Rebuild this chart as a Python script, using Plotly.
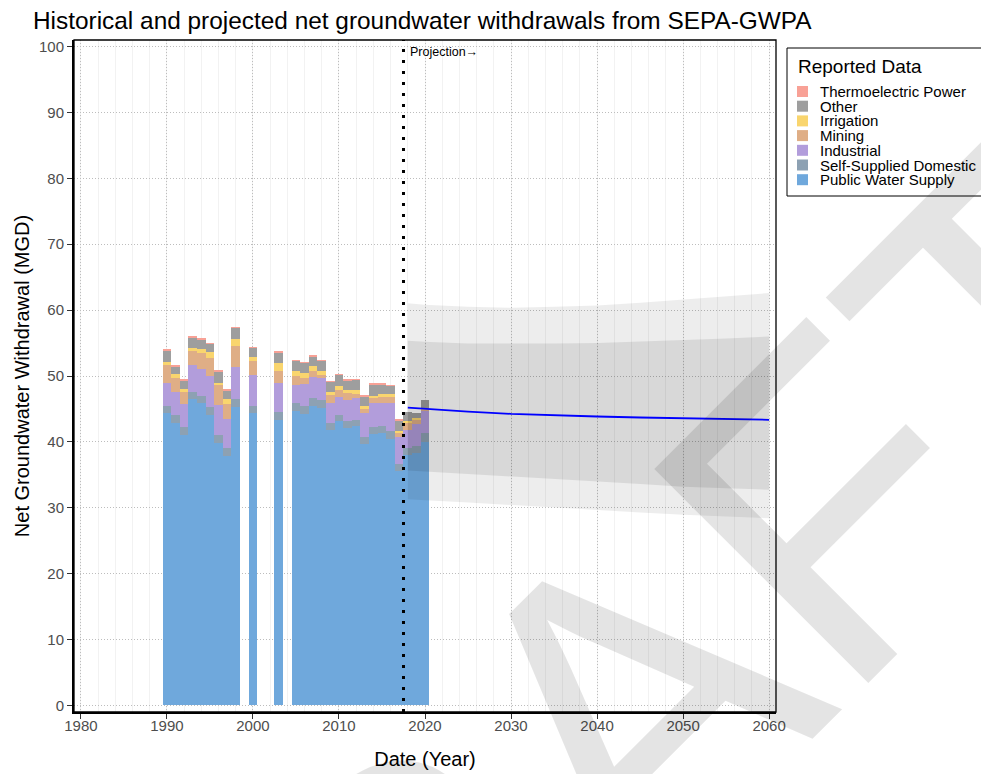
import plotly.graph_objects as go

# ---------------- reported withdrawals (MGD) ----------------
years = [1990, 1991, 1992, 1993, 1994, 1995, 1996, 1997, 1998, 2000, 2003,
         2005, 2006, 2007, 2008, 2009, 2010, 2011, 2012, 2013, 2014, 2015,
         2016, 2017, 2018, 2019, 2020]

public_water_supply = [44.4, 42.9, 41.05, 46.5, 45.9, 44.1, 39.9, 37.9, 45.3, 44.4, 43.3,
                       44.7, 44.25, 45.5, 45.2, 41.8, 43.1, 42.1, 42.4, 39.7, 41.2, 41.3,
                       40.45, 35.6, 38.0, 38.3, 40.05]
self_supplied_domestic = [1.1, 1.2, 1.15, 1.1, 1.1, 1.2, 1.15, 1.2, 1.2, 1.1, 1.3,
                          1.2, 1.15, 1.1, 1.2, 1.1, 1.0, 1.0, 0.9, 1.1, 1.0, 1.1,
                          1.15, 1.05, 1.0, 1.1, 1.25]
industrial = [3.5, 3.45, 3.6, 4.0, 4.1, 4.7, 4.55, 4.3, 4.8, 4.7, 4.3,
              2.75, 3.4, 3.3, 3.3, 3.05, 2.7, 3.2, 3.3, 3.6, 3.7, 3.55,
              4.3, 4.05, 2.8, 3.35, 3.5]
mining = [2.7, 2.15, 1.7, 2.2, 2.4, 2.7, 3.0, 2.4, 3.2, 2.15, 1.9,
          1.35, 0.9, 0.9, 0.5, 1.15, 1.0, 1.1, 0.7, 0.6, 0.7, 0.85,
          0.9, 0.6, 1.0, 0.6, 0.15]
irrigation = [0.5, 0.6, 0.5, 0.5, 0.6, 0.9, 0.4, 0.7, 1.1, 0.55, 1.15,
              0.8, 0.8, 0.75, 0.6, 0.5, 0.7, 0.5, 0.6, 0.5, 0.4, 0.4,
              0.5, 0.4, 0.4, 0.25, 0.25]
other = [1.7, 1.2, 1.3, 1.6, 1.5, 1.3, 1.7, 1.3, 1.7, 1.4, 1.65,
         1.5, 1.5, 1.45, 1.5, 1.55, 1.75, 1.45, 1.55, 1.45, 1.75, 1.55,
         1.25, 1.6, 1.4, 0.75, 1.1]
thermoelectric_power = [0.1, 0.1, 0.1, 0.1, 0.1, 0.1, 0.1, 0.1, 0.1, 0.1, 0.1,
                        0.05, 0.05, 0.05, 0.05, 0.05, 0.05, 0.05, 0.05, 0.05, 0.05, 0.05,
                        0.05, 0.05, 0.0, 0.0, 0.0]

# stacking order, bottom to top
series_names = ["Public Water Supply", "Self-Supplied Domestic", "Industrial",
                "Mining", "Irrigation", "Other", "Thermoelectric Power"]
series_values = [public_water_supply, self_supplied_domestic, industrial,
                 mining, irrigation, other, thermoelectric_power]
series_colors = ["#6FA8DC", "#8DA1B3", "#B29DDB", "#DFAE86", "#F9D56E",
                 "#9E9E9E", "#F8A196"]

# ---------------- projection (MGD) ----------------
proj_years = [2018, 2020, 2025, 2030, 2035, 2040, 2045, 2050, 2055, 2060]
proj_mean = [45.2, 45.0, 44.6, 44.25, 44.0, 43.85, 43.7, 43.55, 43.45, 43.35]
proj_outer_upper = [61.05, 60.8, 60.5, 60.35, 60.5, 60.7, 61.1, 61.6, 62.1, 62.6]
proj_inner_upper = [55.35, 55.2, 54.95, 54.9, 54.95, 55.0, 55.2, 55.45, 55.7, 56.0]
proj_inner_lower = [35.65, 35.5, 35.1, 34.7, 34.35, 34.0, 33.6, 33.2, 32.95, 32.75]
proj_outer_lower = [31.3, 31.15, 30.8, 30.45, 30.1, 29.7, 29.3, 28.95, 28.65, 28.4]

projection_start = 2017.5

x_ticks = list(range(1980, 2061, 10))
y_ticks = list(range(0, 101, 10))

FONT = "Liberation Sans, Arial, Helvetica, sans-serif"

# page geometry (px) used for layout-only placement
W, H = 981, 774
ML, MR, MT, MB = 74, 205, 40, 62
PW, PH = W - ML - MR, H - MT - MB


def paper_x(px):
    return (px - ML) / PW


def paper_y(py):
    return (H - MB - py) / PH


fig = go.Figure()

for name, vals, col in zip(series_names, series_values, series_colors):
    fig.add_trace(go.Bar(
        x=years, y=vals, name=name, width=1.0,
        marker=dict(color=col, line=dict(width=0)),
        showlegend=False,
    ))

# uncertainty ribbons
fig.add_trace(go.Scatter(
    x=proj_years + proj_years[::-1],
    y=proj_outer_upper + proj_outer_lower[::-1],
    fill="toself", fillcolor="rgba(0,0,0,0.07)",
    line=dict(width=0), mode="lines", hoverinfo="skip", showlegend=False,
))
fig.add_trace(go.Scatter(
    x=proj_years + proj_years[::-1],
    y=proj_inner_upper + proj_inner_lower[::-1],
    fill="toself", fillcolor="rgba(0,0,0,0.085)",
    line=dict(width=0), mode="lines", hoverinfo="skip", showlegend=False,
))
fig.add_trace(go.Scatter(
    x=proj_years, y=proj_mean, mode="lines",
    line=dict(color="#0000FF", width=1.8), showlegend=False,
))

shapes = [
    # projection divider
    dict(type="line", xref="x", yref="paper", x0=projection_start, x1=projection_start,
         y0=0, y1=1, line=dict(color="black", width=3, dash="3px,8px")),
    # panel border
    dict(type="rect", xref="paper", yref="paper", x0=0, x1=1, y0=0, y1=1,
         line=dict(color="black", width=1.3)),
    # legend frame
    dict(type="rect", xref="paper", yref="paper",
         x0=paper_x(787), x1=paper_x(990), y0=paper_y(196), y1=paper_y(48),
         line=dict(color="black", width=1), fillcolor="white", layer="below"),
]

annotations = [
    dict(text="Projection\u2192", xref="x", yref="paper", x=projection_start,
         y=paper_y(52), xanchor="left", yanchor="middle", xshift=5,
         showarrow=False, font=dict(family=FONT, size=12.5, color="black")),
    dict(text="Reported Data", xref="paper", yref="paper", x=paper_x(796),
         y=paper_y(67), xanchor="left", yanchor="middle", showarrow=False,
         font=dict(family=FONT, size=19, color="black")),
]

# legend entries, top to bottom
for i, (name, col) in enumerate(zip(series_names[::-1], series_colors[::-1])):
    cy = 91.5 + i * 14.7
    shapes.append(dict(type="rect", xref="paper", yref="paper",
                       x0=paper_x(797), x1=paper_x(808),
                       y0=paper_y(cy + 5.5), y1=paper_y(cy - 5.5),
                       line=dict(width=0), fillcolor=col))
    annotations.append(dict(text=name, xref="paper", yref="paper",
                            x=paper_x(818), y=paper_y(cy), xanchor="left",
                            yanchor="middle", showarrow=False,
                            font=dict(family=FONT, size=15, color="black")))

# watermark
annotations.append(dict(text="DRAFT", xref="paper", yref="paper",
                        x=paper_x(596), y=paper_y(739), xanchor="center",
                        yanchor="middle", showarrow=False, textangle=-45,
                        font=dict(family=FONT, size=440, color="rgba(0,0,0,0.105)")))

fig.update_layout(
    width=W, height=H,
    margin=dict(l=ML, r=MR, t=MT, b=MB, pad=0),
    paper_bgcolor="white", plot_bgcolor="white",
    barmode="stack", bargap=0,
    showlegend=False,
    title=dict(text="Historical and projected net groundwater withdrawals from SEPA-GWPA",
               xref="container", yref="container", x=33 / W, y=1 - 20 / H,
               xanchor="left", yanchor="middle",
               font=dict(family=FONT, size=24.4, color="black")),
    font=dict(family=FONT),
    shapes=shapes,
    annotations=annotations,
)

grid_dash = "1px,2px"

fig.update_xaxes(
    range=[1979.2, 2060.8], tickvals=x_ticks, ticks="outside", ticklen=5,
    tickcolor="#333333", tickwidth=1, ticklabelstandoff=-6,
    tickfont=dict(family=FONT, size=15, color="#4D4D4D"),
    showline=True, linecolor="black", linewidth=2, zeroline=False,
    showgrid=True, gridcolor="#BDBDBD", griddash=grid_dash, gridwidth=1,
    minor=dict(dtick=2, showgrid=True, gridcolor="#F2F2F2", gridwidth=1,
               griddash="solid"),
    automargin=False,
    title=dict(text="Date (Year)", standoff=19,
               font=dict(family=FONT, size=20, color="black")),
)
fig.update_yaxes(
    range=[-1, 101], tickvals=y_ticks, ticks="outside", ticklen=5,
    tickcolor="#333333", tickwidth=1,
    tickfont=dict(family=FONT, size=15, color="#4D4D4D"),
    showline=True, linecolor="black", linewidth=2, zeroline=False,
    showgrid=True, gridcolor="#BDBDBD", griddash=grid_dash, gridwidth=1,
    automargin=False,
    title=dict(text="Net Groundwater Withdrawal (MGD)", standoff=4,
               font=dict(family=FONT, size=20, color="black")),
)

fig.write_html("out.html", config={"displayModeBar": False})
